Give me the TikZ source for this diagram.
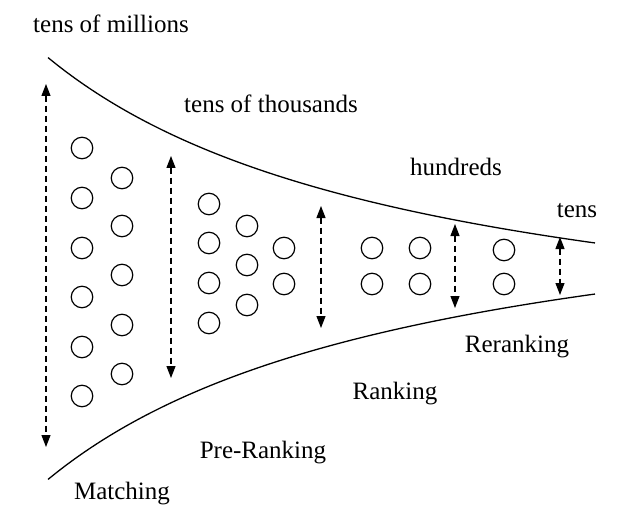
\documentclass[tikz,border=0pt]{standalone}
\usepackage{fontspec}
\setmainfont{Liberation Serif}
\usetikzlibrary{arrows.meta}
\begin{document}
\begin{tikzpicture}[x=1pt,y=-1pt,
  curve/.style={line width=1.3pt},
  item/.style={circle,draw,line width=1.2pt,minimum size=21.5pt,inner sep=0pt},
  span/.style={dashed,dash pattern=on 6pt off 4pt,line width=1.2pt,{Triangle[length=12pt,width=9pt]}-{Triangle[length=12pt,width=9pt]}},
  lbl/.style={font=\fontsize{25}{30}\selectfont,inner sep=0pt}]
\useasboundingbox (0,0) rectangle (633,519);
% funnel curves
\draw[curve] plot[domain=48:595,samples=120] (\x,{268.5-(1207.37/((\x+335)/100)-104.3)});
\draw[curve] plot[domain=48:595,samples=120] (\x,{268.5+(1207.37/((\x+335)/100)-104.3)});
% labels
\node[lbl] (l1) at (111,24) {tens of millions};
\node[lbl] (l2) at (271,104) {tens of thousands};
\node[lbl] (l3) at (456,167) {hundreds};
\node[lbl] (l4) at (577,211) {tens};
\node[lbl] (l5) at (517,347) {Reranking};
\node[lbl] (l6) at (395,394) {Ranking};
\node[lbl] (l7) at (263,453) {Pre-Ranking};
\node[lbl] (l8) at (122,494) {Matching};
% group 1
\foreach \y [count=\i] in {148,198,248,297,347,396} \node[item] (a\i) at (82,\y) {};
\foreach \y [count=\i] in {178,226,275,325,374} \node[item] (b\i) at (122,\y) {};
% group 2
\foreach \y [count=\i] in {204,243,283,323} \node[item] (c\i) at (209,\y) {};
\foreach \y [count=\i] in {226,265,305} \node[item] (d\i) at (247,\y) {};
\foreach \y [count=\i] in {248,284} \node[item] (e\i) at (284,\y) {};
% group 3
\foreach \y [count=\i] in {248,284} \node[item] (f\i) at (372,\y) {};
\foreach \y [count=\i] in {248,284} \node[item] (g\i) at (420,\y) {};
% group 4
\foreach \y [count=\i] in {250,284} \node[item] (h\i) at (504,\y) {};
% span arrows
\coordinate (s1t) at (46,84); \coordinate (s1b) at (46,447);
\coordinate (s2t) at (171,156); \coordinate (s2b) at (171,378);
\coordinate (s3t) at (321,206); \coordinate (s3b) at (321,328);
\coordinate (s4t) at (455,224); \coordinate (s4b) at (455,308);
\coordinate (s5t) at (560,237); \coordinate (s5b) at (560,295);
\draw[span] (s1t) -- (s1b);
\draw[span] (s2t) -- (s2b);
\draw[span] (s3t) -- (s3b);
\draw[span] (s4t) -- (s4b);
\draw[span] (s5t) -- (s5b);
\end{tikzpicture}
\end{document}
